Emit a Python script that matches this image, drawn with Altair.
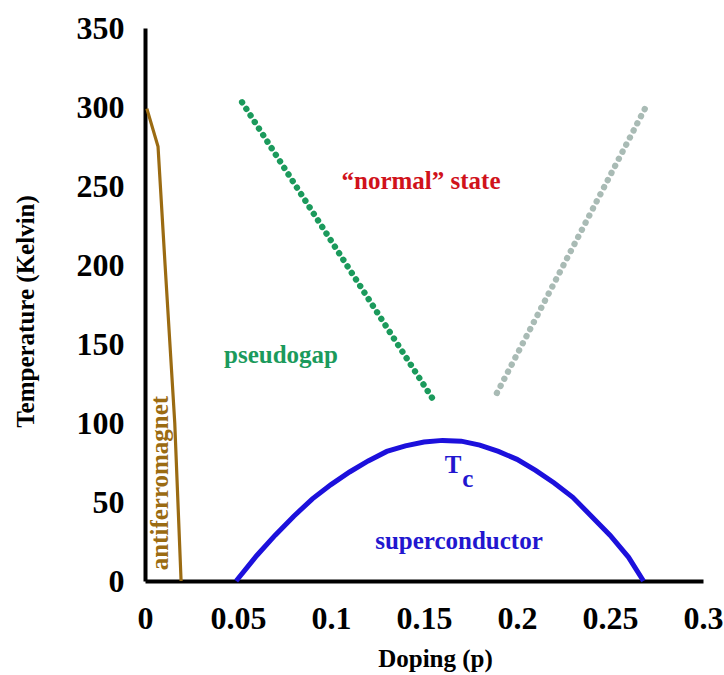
import altair as alt
import pandas as pd

# Antiferromagnetic boundary (Néel temperature)
afm_p = [0.001, 0.007, 0.0108, 0.016, 0.0194]
afm_T = [299, 275, 200, 100, 0]

# Pseudogap crossover T*
pg_p = [0.0522, 0.1565]
pg_T = [303, 112]

# Overdoped crossover into the normal state
od_p = [0.1892, 0.2688]
od_T = [119, 299]

# Superconducting dome Tc(p)
tc_p = [0.049, 0.06, 0.07, 0.08, 0.09, 0.10, 0.11, 0.12, 0.13, 0.14, 0.15, 0.16,
        0.17, 0.18, 0.19, 0.20, 0.21, 0.22, 0.23, 0.24, 0.25, 0.26, 0.268]
tc_T = [0, 16, 29, 41, 52, 61, 69, 76, 82, 85.5, 88, 89,
        88.5, 86, 82, 77, 70, 62, 53, 41, 29, 15, 0]

# Region labels
lab_text = ["\u201cnormal\u201d state", "pseudogap", "superconductor", "T", "c"]
lab_p = [0.1484, 0.0731, 0.1688, 0.1656, 0.1736]
lab_T = [253, 143, 25.5, 73.5, 64.5]
lab_color = ["#d0121b", "#1b9a5c", "#2216cf", "#2216cf", "#2216cf"]

afm_label = "antiferromagnet"
afm_label_p = 0.0081
afm_label_T = 62

SERIF = "Liberation Serif"

x_scale = alt.Scale(domain=[0, 0.3], nice=False, zero=False)
y_scale = alt.Scale(domain=[0, 350], nice=False)

x_enc = alt.X(
    "p:Q", scale=x_scale, title="Doping (p)",
    axis=alt.Axis(
        values=[0, 0.05, 0.1, 0.15, 0.2, 0.25, 0.3], format="~g",
        grid=False, ticks=False, domainColor="black", domainWidth=4,
        labelFont=SERIF, labelFontWeight="bold", labelFontSize=32, labelColor="black",
        labelPadding=22, labelFlush=False, labelOverlap=False,
        titleFont=SERIF, titleFontWeight="bold", titleFontSize=25, titleColor="black",
        titleX=290, titleY=85, titleBaseline="alphabetic", titleAnchor="middle",
    ),
)
y_enc = alt.Y(
    "T:Q", scale=y_scale, title="Temperature (Kelvin)",
    axis=alt.Axis(
        values=[0, 50, 100, 150, 200, 250, 300, 350],
        grid=False, ticks=False, domainColor="black", domainWidth=4,
        labelFont=SERIF, labelFontWeight="bold", labelFontSize=32, labelColor="black",
        labelPadding=21, labelFlush=False, labelOverlap=False,
        titleFont=SERIF, titleFontWeight="bold", titleFontSize=25, titleColor="black",
        titleX=-120, titleY=283, titleAngle=-90, titleBaseline="middle", titleAlign="center",
    ),
)

afm_df = pd.DataFrame({"p": afm_p, "T": afm_T})
pg_df = pd.DataFrame({"p": pg_p, "T": pg_T})
od_df = pd.DataFrame({"p": od_p, "T": od_T})
tc_df = pd.DataFrame({"p": tc_p, "T": tc_T})
lab_df = pd.DataFrame({"text": lab_text, "p": lab_p, "T": lab_T, "color": lab_color})
afm_lab_df = pd.DataFrame({"text": [afm_label], "p": [afm_label_p], "T": [afm_label_T]})

afm_line = alt.Chart(afm_df).mark_line(color="#9b6b12", strokeWidth=3.2).encode(
    x=x_enc, y=y_enc, order="T:Q"
)
pg_line = alt.Chart(pg_df).mark_line(
    color="#1b9a5c", strokeWidth=6.3, strokeDash=[0.1, 7.7], strokeCap="round"
).encode(x="p:Q", y="T:Q")
od_line = alt.Chart(od_df).mark_line(
    color="#a9bbb5", strokeWidth=6.3, strokeDash=[0.1, 7.9], strokeCap="round"
).encode(x="p:Q", y="T:Q")
tc_line = alt.Chart(tc_df).mark_line(color="#1c10dc", strokeWidth=5).encode(
    x="p:Q", y="T:Q"
)

labels = alt.Chart(lab_df).mark_text(
    font=SERIF, fontWeight="bold", fontSize=25, align="center", baseline="middle"
).encode(
    x="p:Q", y="T:Q", text="text:N", color=alt.Color("color:N", scale=None)
)
afm_text = alt.Chart(afm_lab_df).mark_text(
    font=SERIF, fontWeight="bold", fontSize=25, align="center", baseline="middle",
    angle=270, color="#9b6b12",
).encode(x="p:Q", y="T:Q", text="text:N")

chart = alt.layer(afm_line, pg_line, od_line, tc_line, labels, afm_text).properties(
    width=558, height=553,
    autosize=alt.AutoSizeParams(type="none"),
    padding={"left": 145, "top": 28, "right": 21, "bottom": 94},
    background="white",
).configure_view(stroke=None)

chart.save("out.html", embed_options={"renderer": "svg", "actions": False})
